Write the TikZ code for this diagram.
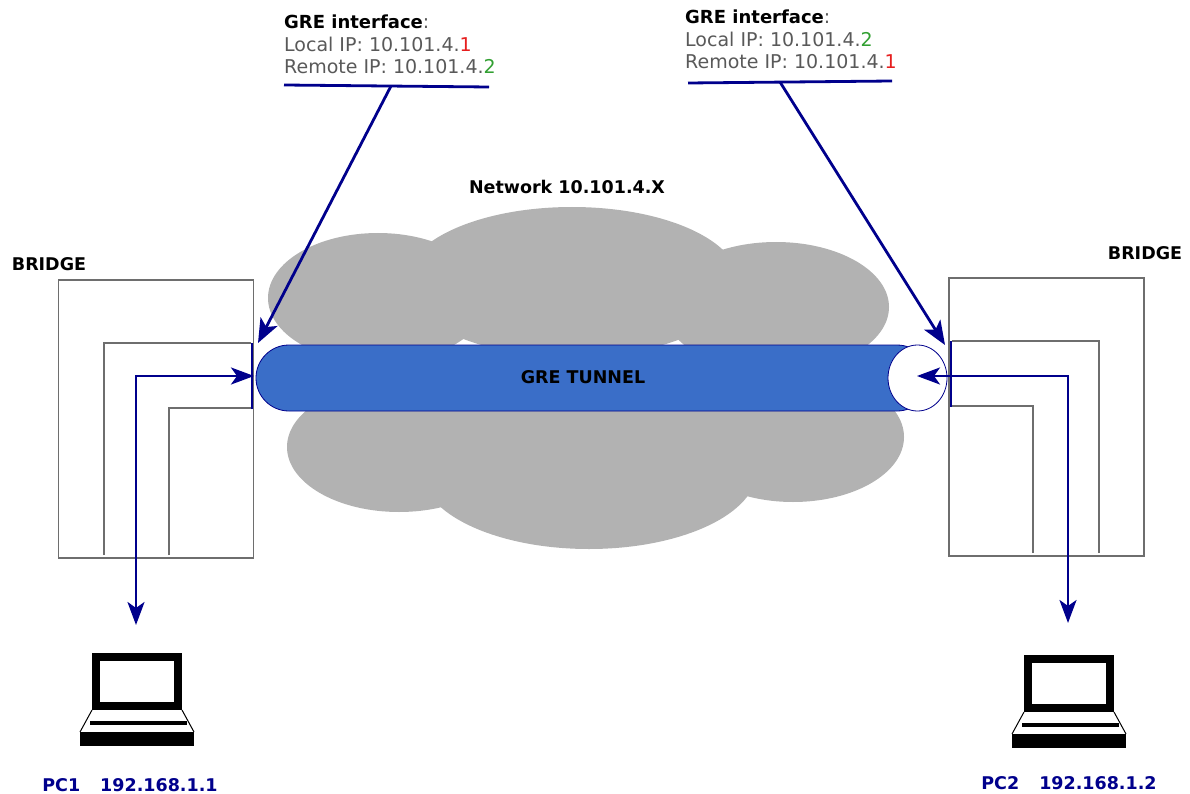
\documentclass[tikz,border=0pt]{standalone}
\usepackage{fontspec}
\setmainfont{DejaVu Sans}
\usetikzlibrary{shapes.geometric}
\usetikzlibrary{positioning}
\usetikzlibrary{arrows.meta}
\definecolor{wire}{RGB}{0,0,140}
\definecolor{pipe}{RGB}{58,110,200}
\definecolor{lobegray}{RGB}{178,178,178}
\definecolor{frame}{RGB}{110,110,110}
\definecolor{ipred}{RGB}{230,30,30}
\definecolor{ipgreen}{RGB}{50,160,50}
\newcommand{\ifacehead}{{\color{black}\fontsize{18}{22.5}\selectfont\textbf{GRE interface}}:}
\tikzset{
    lobe/.style={ellipse, fill=lobegray, inner sep=0pt},
    bridgebox/.style={draw=frame, line width=1.3pt, fill=white, minimum width=195pt, minimum height=278pt, inner sep=0pt},
    port/.style={draw=frame, line width=1.8pt},
    wirearrow/.style={draw=wire, line width=2.8pt, -{Stealth[length=24pt,width=19pt,inset=6pt]}},
    wireboth/.style={draw=wire, line width=2.8pt, {Stealth[length=23pt,width=17pt,inset=6pt]}-{Stealth[length=23pt,width=17pt,inset=6pt]}},
    wireline/.style={draw=wire, line width=2.8pt},
    caption/.style={font=\bfseries\fontsize{17.5}{20}\selectfont, inner sep=0pt},
    pclabel/.style={caption, text=wire},
    ifacetext/.style={align=left, anchor=north west, inner sep=0pt, text=black!65, font=\fontsize{19}{22.5}\selectfont},
    pics/laptop/.style={code={
        \draw[line width=8pt, miter limit=10] (12+4,4) rectangle (102-4,57-4);
        \draw[line width=1pt] (12,57) -- (0,79) (102,57) -- (114,79);
        \fill (10,68) rectangle (107,72);
        \fill (0,79) rectangle (114,93);
    }},
}
\begin{document}
\begin{tikzpicture}[x=1pt, y=-1pt]
        \useasboundingbox (0,0) rectangle (1190,794);

        \node[lobe, minimum width=220pt, minimum height=130pt] (lobeA) at (378,298) {};
        \node[lobe, minimum width=334pt, minimum height=150pt] (lobeB) at (572,282) {};
        \node[lobe, minimum width=226pt, minimum height=130pt] (lobeC) at (776,307) {};
        \node[lobe, minimum width=224pt, minimum height=130pt] (lobeD) at (399,447) {};
        \node[lobe, minimum width=336pt, minimum height=158pt] (lobeE) at (589,470) {};
        \node[lobe, minimum width=222pt, minimum height=130pt] (lobeF) at (793,437) {};
        \node[caption] (network) at (567,187) {Network 10.101.4.X};

        \node[bridgebox] (bridgeL) at (156,419) {};
        \node[bridgebox] (bridgeR) at (1046.5,417) {};
        \node[caption] (labelL) at (49,264) {BRIDGE};
        \node[caption] (labelR) at (1145,253) {BRIDGE};

        % inner ports of both bridges
        \draw[port] (104,555) -- (104,343) -- (251,343);
        \draw[port] (169,555) -- (169,408) -- (251,408);
        \draw[port] (1099,553) -- (1099,341) -- (952,341);
        \draw[port] (1033,553) -- (1033,406) -- (952,406);

        \node[draw=wire, fill=pipe, line width=.8pt, rounded corners=33pt, minimum width=674pt, minimum height=66pt, inner sep=0pt] (tunnel) at (593,378) {};
        \node[ellipse, draw=wire, fill=white, line width=.8pt, minimum width=59pt, minimum height=66pt, inner sep=0pt] (mouth) at (917.5,378) {};
        \node[caption] (tunnelname) at (583,377) {GRE TUNNEL};

        \coordinate (portLa) at (252,343);
        \coordinate (portLb) at (252,409);
        \coordinate (portRa) at (951,341);
        \coordinate (portRb) at (951,407);
        \draw[wireline] (portLa) -- (portLb);
        \draw[wireline] (portRa) -- (portRb);

        \coordinate (elbowL) at (136,376);
        \coordinate (elbowR) at (1068,376);
        \coordinate (pcoutL) at (136,625);
        \coordinate (pcoutR) at (1068,623);
        \coordinate (tunnelinL) at (254,376);
        \coordinate (tunnelinR) at (917,376);
        \draw[wireboth] (pcoutL) -- (elbowL) -- (tunnelinL);
        \draw[wireboth] (pcoutR) -- (elbowR) -- (tunnelinR);

        \node[ifacetext] (ifaceL) at (284,15) {\ifacehead\\Local IP: 10.101.4.{\color{ipred}1}\\Remote IP: 10.101.4.{\color{ipgreen}2}};
        \node[ifacetext] (ifaceR) at (685,10) {\ifacehead\\Local IP: 10.101.4.{\color{ipgreen}2}\\Remote IP: 10.101.4.{\color{ipred}1}};

        \coordinate (ruleLa) at (284,85);
        \coordinate (ruleLb) at (489,87);
        \coordinate (ruleRa) at (688,83);
        \coordinate (ruleRb) at (892,81);
        \coordinate (ruleLm) at (391,86);
        \coordinate (ruleRm) at (780,82);
        \coordinate (hitL) at (258,343);
        \coordinate (hitR) at (945,345);
        \draw[wireline] (ruleLa) -- (ruleLb);
        \draw[wireline] (ruleRa) -- (ruleRb);
        \draw[wirearrow] (ruleLm) -- (hitL);
        \draw[wirearrow] (ruleRm) -- (hitR);

        \pic at (80,653) {laptop};
        \pic at (1012,655) {laptop};
        \node[pclabel] (pcone) at (130,785) {PC1\hspace{20pt}192.168.1.1};
        \node[pclabel] (pctwo) at (1069,783) {PC2\hspace{20pt}192.168.1.2};
    \end{tikzpicture}
\end{document}
